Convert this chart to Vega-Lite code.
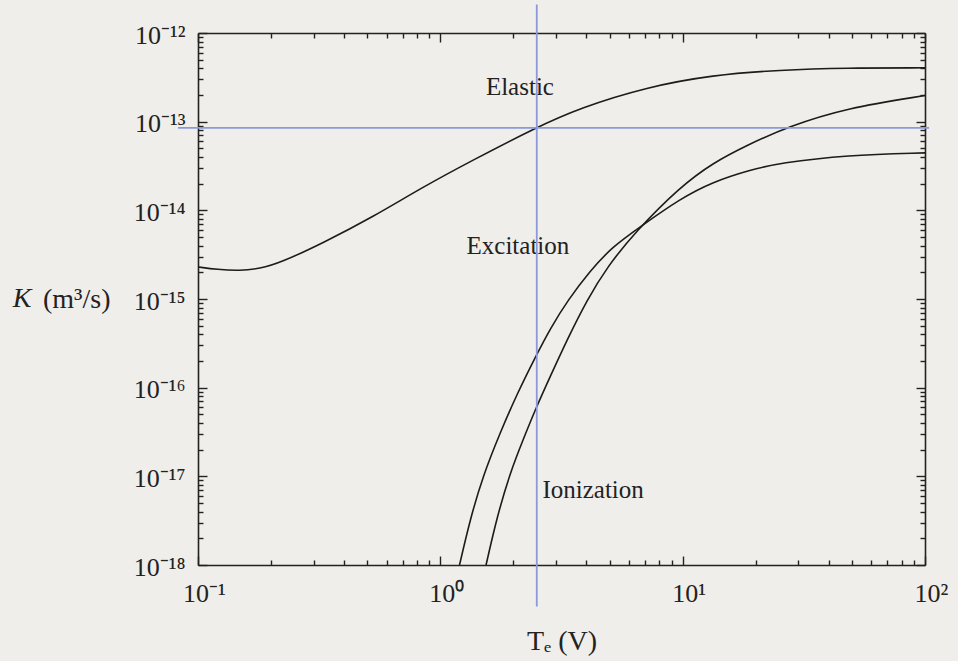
{
  "$schema": "https://vega.github.io/schema/vega-lite/v6.json",
  "width": 727,
  "height": 532,
  "autosize": "none",
  "padding": {"left": 198, "top": 33, "right": 33, "bottom": 96},
  "background": "#efeeea",
  "config": {
    "view": {"stroke": null},
    "font": "Liberation Serif",
    "axis": {
      "domainColor": "#222222",
      "domainWidth": 1.6,
      "tickColor": "#222222",
      "tickWidth": 1.4,
      "labelFont": "Liberation Serif",
      "labelFontSize": 26,
      "labelColor": "#222222",
      "titleFont": "Liberation Serif",
      "titleColor": "#222222",
      "titleFontWeight": "normal",
      "titleFontSize": 28,
      "grid": false,
      "labelOverlap": false,
      "labelFlush": false,
      "labelBound": false
    }
  },
  "datasets": {
    "curves": [
      {"curve": "Elastic", "T": 0.1, "K": 2.30e-15},
      {"curve": "Elastic", "T": 0.12, "K": 2.15e-15},
      {"curve": "Elastic", "T": 0.149, "K": 2.08e-15},
      {"curve": "Elastic", "T": 0.18, "K": 2.2e-15},
      {"curve": "Elastic", "T": 0.218, "K": 2.55e-15},
      {"curve": "Elastic", "T": 0.328, "K": 4.29e-15},
      {"curve": "Elastic", "T": 0.527, "K": 8.43e-15},
      {"curve": "Elastic", "T": 0.849, "K": 1.84e-14},
      {"curve": "Elastic", "T": 1.365, "K": 3.70e-14},
      {"curve": "Elastic", "T": 2.46, "K": 8.49e-14},
      {"curve": "Elastic", "T": 3.77, "K": 1.43e-13},
      {"curve": "Elastic", "T": 7.13, "K": 2.46e-13},
      {"curve": "Elastic", "T": 13.3, "K": 3.36e-13},
      {"curve": "Elastic", "T": 25.2, "K": 3.83e-13},
      {"curve": "Elastic", "T": 47.6, "K": 4.03e-13},
      {"curve": "Elastic", "T": 100, "K": 4.05e-13},
      {"curve": "Excitation", "T": 1.2, "K": 1.0e-18},
      {"curve": "Excitation", "T": 1.326, "K": 3.24e-18},
      {"curve": "Excitation", "T": 1.50, "K": 1.014e-17},
      {"curve": "Excitation", "T": 1.764, "K": 3.09e-17},
      {"curve": "Excitation", "T": 2.073, "K": 8.51e-17},
      {"curve": "Excitation", "T": 2.483, "K": 2.29e-16},
      {"curve": "Excitation", "T": 2.836, "K": 4.60e-16},
      {"curve": "Excitation", "T": 3.365, "K": 9.77e-16},
      {"curve": "Excitation", "T": 4.148, "K": 2.07e-15},
      {"curve": "Excitation", "T": 5.11, "K": 3.86e-15},
      {"curve": "Excitation", "T": 6.67, "K": 6.50e-15},
      {"curve": "Excitation", "T": 9.76, "K": 1.35e-14},
      {"curve": "Excitation", "T": 13.3, "K": 2.09e-14},
      {"curve": "Excitation", "T": 18.97, "K": 2.85e-14},
      {"curve": "Excitation", "T": 25.2, "K": 3.42e-14},
      {"curve": "Excitation", "T": 47.6, "K": 4.21e-14},
      {"curve": "Excitation", "T": 100, "K": 4.45e-14},
      {"curve": "Ionization", "T": 1.544, "K": 1.0e-18},
      {"curve": "Ionization", "T": 1.714, "K": 3.49e-18},
      {"curve": "Ionization", "T": 1.94, "K": 1.094e-17},
      {"curve": "Ionization", "T": 2.194, "K": 2.58e-17},
      {"curve": "Ionization", "T": 2.483, "K": 5.92e-17},
      {"curve": "Ionization", "T": 2.836, "K": 1.32e-16},
      {"curve": "Ionization", "T": 3.333, "K": 3.46e-16},
      {"curve": "Ionization", "T": 4.03, "K": 9.77e-16},
      {"curve": "Ionization", "T": 4.88, "K": 2.30e-15},
      {"curve": "Ionization", "T": 6.37, "K": 5.70e-15},
      {"curve": "Ionization", "T": 9.76, "K": 1.84e-14},
      {"curve": "Ionization", "T": 13.3, "K": 3.42e-14},
      {"curve": "Ionization", "T": 18.5, "K": 5.46e-14},
      {"curve": "Ionization", "T": 27.0, "K": 8.71e-14},
      {"curve": "Ionization", "T": 47.6, "K": 1.43e-13},
      {"curve": "Ionization", "T": 100, "K": 1.97e-13}
    ],
    "labels": [
      {"label": "Elastic", "T": 2.13, "K": 2.46e-13},
      {"label": "Excitation", "T": 2.09, "K": 3.97e-15},
      {"label": "Ionization", "T": 4.27, "K": 7.05e-18}
    ],
    "ylabel": [{"label": "K", "T": 0.0188, "K": 1.0e-15}],
    "vline": [{"T": 2.5, "K1": 2.1e-12, "K2": 3.4e-19}],
    "hline": [{"K": 8.5e-14, "T1": 0.0827, "T2": 104}]
  },
  "layer": [
    {
      "data": {"name": "curves"},
      "mark": {"type": "line", "color": "#1c1c1c", "strokeWidth": 1.6, "interpolate": "basis", "clip": true},
      "encoding": {
        "x": {
          "field": "T", "type": "quantitative",
          "scale": {"type": "log", "domain": [0.1, 100], "nice": false},
          "axis": {
            "orient": "bottom",
            "values": [0.1,0.2,0.3,0.4,0.5,0.6,0.7,0.8,0.9,1,2,3,4,5,6,7,8,9,10,20,30,40,50,60,70,80,90,100],
            "tickSize": {"condition": {"test": "abs(log(datum.value)/LN10-round(log(datum.value)/LN10))<0.001", "value": -9}, "value": -5},
            "labelExpr": "abs(log(datum.value)/LN10-round(log(datum.value)/LN10))<0.001 ? ['10⁻¹','10⁰','10¹','10²'][round(log(datum.value)/LN10)+1] : ''",
            "labelPadding": 24,
            "labelOffset": 6,
            "title": "Tₑ (V)",
            "titleY": 84,
            "titleBaseline": "alphabetic"
          }
        },
        "y": {
          "field": "K", "type": "quantitative",
          "scale": {"type": "log", "domain": [1e-18, 1e-12], "nice": false},
          "axis": {
            "orient": "left",
            "values": [1e-18,2e-18,3e-18,4e-18,5e-18,6e-18,7e-18,8e-18,9e-18,1e-17,2e-17,3e-17,4e-17,5e-17,6e-17,7e-17,8e-17,9e-17,1e-16,2e-16,3e-16,4e-16,5e-16,6e-16,7e-16,8e-16,9e-16,1e-15,2e-15,3e-15,4e-15,5e-15,6e-15,7e-15,8e-15,9e-15,1e-14,2e-14,3e-14,4e-14,5e-14,6e-14,7e-14,8e-14,9e-14,1e-13,2e-13,3e-13,4e-13,5e-13,6e-13,7e-13,8e-13,9e-13,1e-12],
            "tickSize": {"condition": {"test": "abs(log(datum.value)/LN10-round(log(datum.value)/LN10))<0.001", "value": -9}, "value": -5},
            "labelExpr": "abs(log(datum.value)/LN10-round(log(datum.value)/LN10))<0.001 ? ['10⁻¹⁸','10⁻¹⁷','10⁻¹⁶','10⁻¹⁵','10⁻¹⁴','10⁻¹³','10⁻¹²'][round(log(datum.value)/LN10)+18] : ''",
            "labelPadding": 22,
            "labelOffset": 2,
            "title": "(m³/s)",
            "titleAngle": 0,
            "titleAlign": "right",
            "titleBaseline": "middle",
            "titleX": -88,
            "titleY": 266
          }
        },
        "detail": {"field": "curve"}
      }
    },
    {
      "data": {"name": "curves"},
      "mark": {"type": "line", "strokeOpacity": 0},
      "encoding": {
        "x": {
          "field": "T", "type": "quantitative",
          "scale": {"type": "log", "domain": [0.1, 100], "nice": false},
          "axis": {
            "orient": "top",
            "values": [0.1,0.2,0.3,0.4,0.5,0.6,0.7,0.8,0.9,1,2,3,4,5,6,7,8,9,10,20,30,40,50,60,70,80,90,100],
            "tickSize": {"condition": {"test": "abs(log(datum.value)/LN10-round(log(datum.value)/LN10))<0.001", "value": -9}, "value": -5},
            "labels": false,
            "title": null
          }
        },
        "y": {
          "field": "K", "type": "quantitative",
          "scale": {"type": "log", "domain": [1e-18, 1e-12], "nice": false},
          "axis": {
            "orient": "right",
            "values": [1e-18,2e-18,3e-18,4e-18,5e-18,6e-18,7e-18,8e-18,9e-18,1e-17,2e-17,3e-17,4e-17,5e-17,6e-17,7e-17,8e-17,9e-17,1e-16,2e-16,3e-16,4e-16,5e-16,6e-16,7e-16,8e-16,9e-16,1e-15,2e-15,3e-15,4e-15,5e-15,6e-15,7e-15,8e-15,9e-15,1e-14,2e-14,3e-14,4e-14,5e-14,6e-14,7e-14,8e-14,9e-14,1e-13,2e-13,3e-13,4e-13,5e-13,6e-13,7e-13,8e-13,9e-13,1e-12],
            "tickSize": {"condition": {"test": "abs(log(datum.value)/LN10-round(log(datum.value)/LN10))<0.001", "value": -9}, "value": -5},
            "labels": false,
            "title": null
          }
        },
        "detail": {"field": "curve"}
      }
    },
    {
      "data": {"name": "labels"},
      "mark": {"type": "text", "font": "Liberation Serif", "fontSize": 25, "color": "#222222", "align": "center", "baseline": "middle"},
      "encoding": {
        "x": {"field": "T", "type": "quantitative", "scale": {"type": "log", "domain": [0.1, 100], "nice": false}, "axis": null},
        "y": {"field": "K", "type": "quantitative", "scale": {"type": "log", "domain": [1e-18, 1e-12], "nice": false}, "axis": null},
        "text": {"field": "label"}
      }
    },
    {
      "data": {"name": "ylabel"},
      "mark": {"type": "text", "font": "Liberation Serif", "fontSize": 28, "fontStyle": "italic", "color": "#222222", "align": "center", "baseline": "middle", "clip": false},
      "encoding": {
        "x": {"field": "T", "type": "quantitative", "scale": {"type": "log", "domain": [0.1, 100], "nice": false}, "axis": null},
        "y": {"field": "K", "type": "quantitative", "scale": {"type": "log", "domain": [1e-18, 1e-12], "nice": false}, "axis": null},
        "text": {"field": "label"}
      }
    },
    {
      "data": {"name": "vline"},
      "mark": {"type": "rule", "color": "#8d98dc", "strokeWidth": 1.8, "clip": false},
      "encoding": {
        "x": {"field": "T", "type": "quantitative", "scale": {"type": "log", "domain": [0.1, 100], "nice": false}, "axis": null},
        "y": {"field": "K1", "type": "quantitative", "scale": {"type": "log", "domain": [1e-18, 1e-12], "nice": false}, "axis": null},
        "y2": {"field": "K2"}
      }
    },
    {
      "data": {"name": "hline"},
      "mark": {"type": "rule", "color": "#8d98dc", "strokeWidth": 1.8, "clip": false},
      "encoding": {
        "y": {"field": "K", "type": "quantitative", "scale": {"type": "log", "domain": [1e-18, 1e-12], "nice": false}, "axis": null},
        "x": {"field": "T1", "type": "quantitative", "scale": {"type": "log", "domain": [0.1, 100], "nice": false}, "axis": null},
        "x2": {"field": "T2"}
      }
    }
  ],
  "resolve": {"axis": {"x": "independent", "y": "independent"}}
}
